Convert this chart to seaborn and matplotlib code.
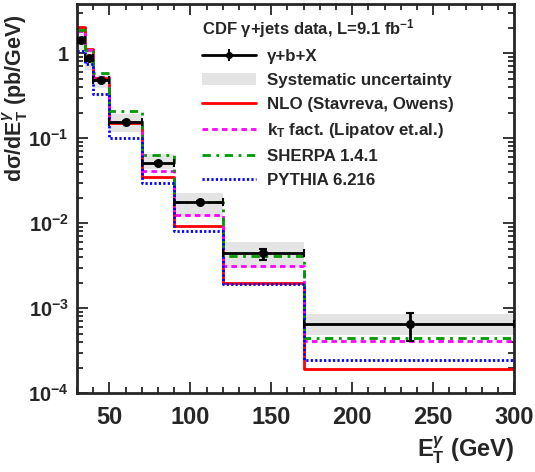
import numpy as np
import pandas as pd
import matplotlib
matplotlib.use("Agg")
import matplotlib.pyplot as plt
import matplotlib.ticker as mticker
from matplotlib.patches import Patch
from matplotlib.lines import Line2D
import seaborn as sns

# ---- data ----
edges = [30, 35, 40, 50, 70, 90, 120, 170, 300]
data_x = [32.5, 37.5, 45, 60, 80, 106, 145, 235.5]
data_y = [1.42, 0.87, 0.48, 0.155, 0.051, 0.0178, 0.0045, 0.00065]
stat_dn = [0.04, 0.03, 0.015, 0.004, 0.0015, 0.0006, 0.00085, 0.00024]
stat_up = [0.04, 0.03, 0.015, 0.004, 0.0015, 0.0006, 0.0005, 0.00023]
syst_lo = [1.10, 0.64, 0.39, 0.118, 0.044, 0.0118, 0.0030, 0.00048]
syst_hi = [1.80, 1.04, 0.55, 0.195, 0.065, 0.0224, 0.0060, 0.00085]
nlo = [2.04, 1.13, 0.51, 0.150, 0.035, 0.0093, 0.0020, 0.000195]
ktfact = [1.85, 1.10, 0.52, 0.155, 0.041, 0.0124, 0.0031, 0.00041]
sherpa = [1.90, 1.10, 0.58, 0.21, 0.063, 0.0178, 0.0041, 0.00044]
pythia = [1.07, 0.74, 0.33, 0.10, 0.030, 0.0081, 0.00195, 0.000245]

legend_title = "CDF γ+jets data, L=9.1 fb$^{-1}$"
labels = ["γ+b+X", "Systematic uncertainty", "NLO (Stavreva, Owens)",
          "k$_{\\mathrm{T}}$ fact. (Lipatov et.al.)", "SHERPA 1.4.1", "PYTHIA 6.216"]

sns.set_style("ticks")
plt.rcParams["font.family"] = ["Liberation Sans", "DejaVu Sans"]
plt.rcParams["font.weight"] = "bold"
plt.rcParams["mathtext.fontset"] = "custom"
plt.rcParams["mathtext.rm"] = "Liberation Sans:bold"
plt.rcParams["mathtext.bf"] = "Liberation Sans:bold"
plt.rcParams["mathtext.it"] = "Liberation Sans:italic:bold"

fig = plt.figure(figsize=(5.35, 4.72), dpi=100)
ax = fig.add_axes([0.144, 0.167, 0.817, 0.824])

# systematic band
lo_s = syst_lo + [syst_lo[-1]]
hi_s = syst_hi + [syst_hi[-1]]
ax.fill_between(edges, lo_s, hi_s, step="post", color="#e4e4e4", lw=0, zorder=1)

styles = [
    (nlo, "#ff0000", "-"),
    (ktfact, "#ff00ff", (0, (2.0, 1.5))),
    (sherpa, "#009a00", (0, (3.0, 2.0, 1.0, 2.0))),
    (pythia, "#0000ff", (0, (0.8, 0.8))),
]
handles_models = []
for vals, col, ls in styles:
    df = pd.DataFrame({"x": edges, "y": list(vals) + [vals[-1]]})
    sns.lineplot(data=df, x="x", y="y", ax=ax, color=col, linestyle=ls,
                 linewidth=2.0, drawstyle="steps-post", zorder=2)
    handles_models.append(Line2D([], [], color=col, linestyle=ls, linewidth=2.0))

# data points
xerr = np.array([[x - edges[i] for i, x in enumerate(data_x)],
                 [edges[i + 1] - x for i, x in enumerate(data_x)]])
ax.errorbar(data_x, data_y, xerr=xerr, yerr=[stat_dn, stat_up], fmt="none",
            ecolor="black", elinewidth=2.0, capsize=3, capthick=1.5, zorder=3)
sns.scatterplot(x=data_x, y=data_y, ax=ax, color="black", s=42, zorder=4,
                edgecolor="black", linewidth=0)

ax.set_yscale("log")
ax.set_xlim(30, 300)
ax.set_ylim(1e-4, 3.77)

ax.xaxis.set_major_locator(mticker.MultipleLocator(50))
ax.xaxis.set_minor_locator(mticker.MultipleLocator(10))
ax.yaxis.set_major_locator(mticker.LogLocator(base=10, numticks=10))
ax.yaxis.set_minor_locator(mticker.LogLocator(base=10, subs=np.arange(2, 10), numticks=20))
ax.yaxis.set_minor_formatter(mticker.NullFormatter())


def yfmt(v, pos):
    e = int(round(np.log10(v)))
    if e == 0:
        return "1"
    return "10$^{%d}$" % e


ax.yaxis.set_major_formatter(mticker.FuncFormatter(yfmt))
ax.tick_params(which="both", direction="in", top=True, right=True, width=1.3)
ax.tick_params(which="major", length=8)
ax.tick_params(which="minor", length=4)
ax.tick_params(axis="x", which="major", pad=9, labelsize=17)
ax.tick_params(axis="y", which="major", pad=6, labelsize=14.5)
for lab in ax.get_xticklabels() + ax.get_yticklabels():
    lab.set_fontweight("bold")
for sp in ax.spines.values():
    sp.set_linewidth(2.0)
    sp.set_visible(True)

ax.set_xlabel("E$_{\\mathrm{T}}^{γ}$ (GeV)", fontsize=17, fontweight="bold", loc="right")
ax.set_ylabel("dσ/dE$_{\\mathrm{T}}^{γ}$ (pb/GeV)", fontsize=15.5, fontweight="bold", loc="top")
ax.yaxis.set_label_coords(-0.107, 0.975)

data_handle = (Line2D([], [], color="black", lw=2.0, marker="o", markersize=4),
               Line2D([], [], color="black", lw=0, marker="|", markersize=9, mew=1.5))
handles = [data_handle, Patch(facecolor="#e4e4e4", edgecolor="none")] + handles_models
leg = ax.legend(handles, labels, title=legend_title, loc="upper left",
                bbox_to_anchor=(0.27, 0.985), frameon=False, fontsize=12.2,
                title_fontproperties={"size": 12.0, "weight": "bold"},
                handlelength=3.2, handletextpad=0.65, labelspacing=0.53,
                borderaxespad=0.0)
leg._legend_box.align = "left"
for t in leg.get_texts():
    t.set_fontweight("bold")

fig.savefig("out.png", dpi=100)
